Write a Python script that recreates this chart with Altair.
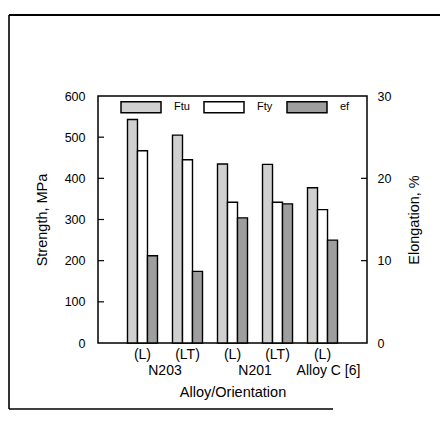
import altair as alt
import pandas as pd

alloys = ["N203", "N203", "N201", "N201", "Alloy C [6]"]
orients = ["(L)", "(LT)", "(L)", "(LT)", "(L)"]
ftu = [543, 505, 435, 434, 377]
fty = [467, 445, 342, 342, 324]
ef = [10.6, 8.7, 15.2, 16.9, 12.5]
series = ["Ftu", "Fty", "ef"]
series_fill = ["#d0d0d0", "#ffffff", "#9e9e9e"]
strength_ticks = [0, 100, 200, 300, 400, 500, 600]
elong_ticks = [0, 10, 20, 30]
strength_inner = [100, 200, 300, 400, 500]
elong_inner = [10, 20]
alloy_names = ["N203", "N201", "Alloy C [6]"]

keys = [a + "|" + o for a, o in zip(alloys, orients)]
rows = []
for k, a, o, v1, v2, v3 in zip(keys, alloys, orients, ftu, fty, ef):
    rows.append({"key": k, "series": "Ftu", "value": v1})
    rows.append({"key": k, "series": "Fty", "value": v2})
    rows.append({"key": k, "series": "ef", "value": v3})
df = pd.DataFrame(rows)
df_s = df[df.series != "ef"]
df_e = df[df.series == "ef"]

first_key = {}
for k, a in zip(keys, alloys):
    first_key.setdefault(a, k)
counts = {a: alloys.count(a) for a in alloy_names}
df_multi = pd.DataFrame({"name": [a for a in alloy_names if counts[a] > 1],
                         "key": [first_key[a] for a in alloy_names if counts[a] > 1]})
df_single = pd.DataFrame({"name": [a for a in alloy_names if counts[a] == 1],
                          "key": [first_key[a] for a in alloy_names if counts[a] == 1]})
df_ts = pd.DataFrame({"value": strength_inner})
df_te = pd.DataFrame({"value": elong_inner})
one = pd.DataFrame({"a": [0]})

FONT = "Liberation Sans"
W, H = 269, 247

xscale = alt.Scale(domain=keys, paddingInner=1 / 3, paddingOuter=0.655)
x_axis = alt.Axis(title="Alloy/Orientation", labelExpr="split(datum.label, '|')[1]",
                  labelAngle=0, tickSize=0, domain=False, labelPadding=4,
                  labelFontSize=14, titleFontSize=14.5, titleFontWeight="normal",
                  titlePadding=24, labelColor="black", titleColor="black")
x_enc = alt.X("key:N", sort=keys, scale=xscale, axis=x_axis)
xoff = alt.XOffset("series:N", sort=series, scale=alt.Scale(domain=series))
color = alt.Color("series:N", scale=alt.Scale(domain=series, range=series_fill),
                  legend=alt.Legend(orient="none", legendX=32, legendY=0, direction="horizontal",
                                    title=None, symbolType="M-2,-0.55H2V0.55H-2Z", symbolSize=400,
                                    symbolStrokeColor="black", symbolStrokeWidth=1.5,
                                    symbolOpacity=1, labelOffset=22, columnPadding=11,
                                    labelFontSize=11, labelColor="black"))

ys = alt.Scale(domain=[0, 600], nice=False)
ye = alt.Scale(domain=[0, 30], nice=False)
s_axis = alt.Axis(orient="left", values=strength_ticks, title="Strength, MPa",
                  tickSize=0, domain=False, grid=False, labelPadding=13,
                  labelFontSize=12.5, titleFontSize=14.5, titleFontWeight="normal",
                  titlePadding=15, labelColor="black", titleColor="black")
e_axis = alt.Axis(orient="right", values=elong_ticks, title="Elongation, %",
                  tickSize=0, domain=False, grid=False, labelPadding=10,
                  labelFontSize=12.5, titleFontSize=14.5, titleFontWeight="normal",
                  titlePadding=31, titleAngle=270, labelColor="black", titleColor="black")

bars_s = alt.Chart(df_s).mark_bar(stroke="black", strokeWidth=1.4).encode(
    x=x_enc, xOffset=xoff, color=color,
    y=alt.Y("value:Q", scale=ys, axis=s_axis, title="Strength, MPa"))
ticks_s = alt.Chart(df_ts).mark_rule(color="black", strokeWidth=1.2).encode(
    y=alt.Y("value:Q", scale=ys, axis=s_axis, title="Strength, MPa"),
    x=alt.value(0), x2=alt.value(6))
frame_left = alt.Chart(one).mark_rule(color="black", strokeWidth=1.6).encode(
    x=alt.value(-89), x2=alt.value(-89), y=alt.value(-81), y2=alt.value(313))
frame_top = alt.Chart(one).mark_rule(color="black", strokeWidth=2).encode(
    x=alt.value(-89), x2=alt.value(342), y=alt.value(-81))
frame_bottom = alt.Chart(one).mark_rule(color="black", strokeWidth=1.6).encode(
    x=alt.value(-89), x2=alt.value(235), y=alt.value(313))
names_multi = alt.Chart(df_multi).mark_text(fontSize=14, dx=22.5, baseline="middle", color="black").encode(
    x=alt.X("key:N", sort=keys, scale=xscale, axis=x_axis), y=alt.value(275), text="name:N")
names_single = alt.Chart(df_single).mark_text(fontSize=14, dx=6, baseline="middle", color="black").encode(
    x=alt.X("key:N", sort=keys, scale=xscale, axis=x_axis), y=alt.value(275), text="name:N")

left = alt.layer(bars_s, ticks_s, frame_left, frame_top, frame_bottom, names_multi, names_single)

bars_e = alt.Chart(df_e).mark_bar(stroke="black", strokeWidth=1.4).encode(
    x=alt.X("key:N", sort=keys, scale=xscale, axis=x_axis), xOffset=xoff, color=color,
    y=alt.Y("value:Q", scale=ye, axis=e_axis, title="Elongation, %"))
ticks_e = alt.Chart(df_te).mark_rule(color="black", strokeWidth=1.2).encode(
    y=alt.Y("value:Q", scale=ye, axis=e_axis, title="Elongation, %"),
    x=alt.value(W - 6), x2=alt.value(W))
right = alt.layer(bars_e, ticks_e)

chart = alt.layer(left, right).resolve_scale(y="independent").properties(
    width=W, height=H,
    autosize=alt.AutoSizeParams(type="none"),
    padding={"left": 90, "top": 88, "right": 73, "bottom": 72},
).configure(font=FONT).configure_view(stroke="black", strokeWidth=1.5)

chart.save("out.html", embed_options={"renderer": "svg", "actions": False})
